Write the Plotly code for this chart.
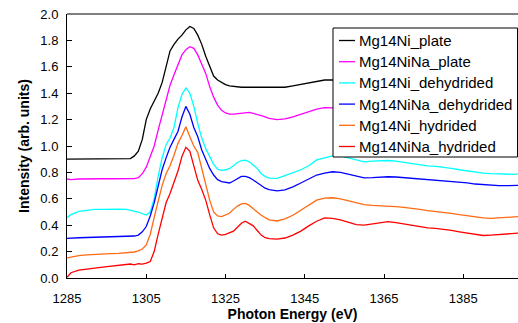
import plotly.graph_objects as go

energy = [1285, 1286, 1288, 1290, 1292, 1294, 1296, 1298, 1300,
          1301, 1302, 1303, 1304, 1305, 1306, 1307, 1308, 1309, 1310,
          1311, 1312, 1313, 1314, 1315, 1316, 1317, 1318, 1319, 1320,
          1321, 1322, 1323, 1324, 1325, 1326, 1327, 1328, 1329, 1330,
          1331, 1332, 1333, 1334, 1335, 1336,
          1338, 1340, 1342, 1344, 1346, 1348, 1350, 1352, 1354, 1356,
          1358, 1360, 1362, 1364, 1366, 1368, 1370, 1372, 1374, 1376,
          1378, 1380, 1382, 1384, 1386, 1388, 1390, 1392, 1394, 1396,
          1398, 1399]

mg14ni_plate = [0.90, 0.90, 0.90, 0.90, 0.90, 0.90, 0.90, 0.90, 0.90,
                0.905, 0.925, 0.96, 1.05, 1.20, 1.28, 1.34, 1.40, 1.48, 1.60,
                1.72, 1.77, 1.81, 1.84, 1.88, 1.905, 1.89, 1.84, 1.77, 1.68,
                1.60, 1.53, 1.50, 1.48, 1.465, 1.455, 1.45, 1.445, 1.445, 1.445,
                1.445, 1.445, 1.445, 1.44, 1.44, 1.44,
                1.44, 1.445, 1.455, 1.465, 1.475, 1.49, 1.50, 1.50, 1.50, 1.495,
                1.49, 1.485, 1.48, 1.48, 1.48, 1.475, 1.47, 1.465, 1.46, 1.455,
                1.45, 1.45, 1.445, 1.44, 1.44, 1.435, 1.435, 1.43, 1.43, 1.43,
                1.43, 1.43]

mg14nina_plate = [0.75, 0.745, 0.75, 0.752, 0.752, 0.752, 0.752, 0.752, 0.752,
                  0.752, 0.753, 0.76, 0.79, 0.84, 0.92, 1.00, 1.12, 1.24, 1.35,
                  1.46, 1.54, 1.62, 1.69, 1.73, 1.752, 1.74, 1.69, 1.62, 1.55,
                  1.45, 1.37, 1.31, 1.27, 1.25, 1.242, 1.242, 1.245, 1.25, 1.253,
                  1.255, 1.247, 1.24, 1.23, 1.22, 1.21,
                  1.20, 1.205, 1.22, 1.24, 1.26, 1.28, 1.29, 1.29, 1.29, 1.285,
                  1.28, 1.275, 1.275, 1.27, 1.27, 1.265, 1.26, 1.255, 1.25, 1.245,
                  1.24, 1.24, 1.235, 1.23, 1.23, 1.225, 1.225, 1.22, 1.22, 1.22,
                  1.22, 1.22]

mg14ni_dehydrided = [0.457, 0.48, 0.505, 0.515, 0.52, 0.52, 0.522, 0.522, 0.52,
                     0.515, 0.508, 0.50, 0.487, 0.477, 0.50, 0.60, 0.77, 0.91, 1.01,
                     1.06, 1.14, 1.29, 1.39, 1.44, 1.40, 1.30, 1.17, 1.06, 0.98,
                     0.92, 0.86, 0.825, 0.815, 0.82, 0.83, 0.85, 0.875, 0.89, 0.893,
                     0.88, 0.856, 0.83, 0.79, 0.77, 0.757,
                     0.755, 0.775, 0.795, 0.82, 0.85, 0.895, 0.91, 0.925, 0.925, 0.91,
                     0.89, 0.88, 0.885, 0.89, 0.89, 0.885, 0.875, 0.865, 0.855, 0.85,
                     0.845, 0.84, 0.83, 0.82, 0.81, 0.80, 0.795, 0.79, 0.787, 0.785,
                     0.785, 0.79]

mg14nina_dehydrided = [0.30, 0.303, 0.305, 0.307, 0.308, 0.31, 0.31, 0.312, 0.313,
                       0.315, 0.318, 0.325, 0.35, 0.39, 0.47, 0.57, 0.70, 0.82, 0.91,
                       0.99, 1.05, 1.11, 1.22, 1.30, 1.24, 1.14, 1.07, 0.97, 0.90,
                       0.83, 0.78, 0.745, 0.73, 0.725, 0.72, 0.735, 0.755, 0.77, 0.77,
                       0.76, 0.742, 0.72, 0.70, 0.68, 0.67,
                       0.66, 0.668, 0.69, 0.72, 0.75, 0.78, 0.795, 0.805, 0.80, 0.785,
                       0.77, 0.758, 0.76, 0.765, 0.767, 0.765, 0.76, 0.755, 0.75, 0.745,
                       0.745, 0.74, 0.735, 0.73, 0.72, 0.712, 0.707, 0.703, 0.70, 0.70,
                       0.70, 0.702]

mg14ni_hydrided = [0.153, 0.16, 0.17, 0.175, 0.18, 0.182, 0.185, 0.187, 0.19,
                   0.193, 0.197, 0.205, 0.22, 0.25, 0.33, 0.46, 0.58, 0.70, 0.79,
                   0.85, 0.93, 1.02, 1.08, 1.145, 1.07, 1.00, 0.95, 0.83, 0.70,
                   0.59, 0.50, 0.47, 0.465, 0.475, 0.49, 0.52, 0.545, 0.562, 0.565,
                   0.55, 0.528, 0.50, 0.475, 0.455, 0.44,
                   0.432, 0.448, 0.475, 0.515, 0.555, 0.59, 0.605, 0.608, 0.60, 0.585,
                   0.57, 0.556, 0.55, 0.548, 0.545, 0.54, 0.535, 0.53, 0.52, 0.51,
                   0.505, 0.50, 0.49, 0.48, 0.47, 0.46, 0.455, 0.452, 0.455, 0.458,
                   0.462, 0.465]

mg14nina_hydrided = [0.005, 0.04, 0.06, 0.07, 0.075, 0.082, 0.088, 0.098, 0.10,
                     0.106, 0.10, 0.108, 0.105, 0.112, 0.125, 0.20, 0.33, 0.45, 0.57,
                     0.64, 0.72, 0.81, 0.92, 0.99, 0.96, 0.85, 0.74, 0.67, 0.59,
                     0.48, 0.38, 0.335, 0.325, 0.33, 0.343, 0.355, 0.385, 0.415, 0.43,
                     0.415, 0.395, 0.36, 0.325, 0.305, 0.298,
                     0.295, 0.303, 0.325, 0.355, 0.395, 0.43, 0.455, 0.452, 0.44, 0.42,
                     0.405, 0.40, 0.41, 0.42, 0.427, 0.42, 0.41, 0.40, 0.39, 0.38,
                     0.376, 0.37, 0.36, 0.35, 0.34, 0.33, 0.322, 0.325, 0.33, 0.33,
                     0.335, 0.34]

series_names = ["Mg14Ni_plate", "Mg14NiNa_plate", "Mg14Ni_dehydrided",
                "Mg14NiNa_dehydrided", "Mg14Ni_hydrided", "Mg14NiNa_hydrided"]
series_values = [mg14ni_plate, mg14nina_plate, mg14ni_dehydrided,
                 mg14nina_dehydrided, mg14ni_hydrided, mg14nina_hydrided]
series_colors = ["#000000", "#FF00FF", "#00FFFF", "#0000FF", "#FF6A13", "#FF0000"]

x_ticks = [1285, 1305, 1325, 1345, 1365, 1385]
y_ticks = [0.0, 0.2, 0.4, 0.6, 0.8, 1.0, 1.2, 1.4, 1.6, 1.8, 2.0]

FONT = "Arial, 'Liberation Sans', sans-serif"
W, H = 518, 323
ML, MR, MT, MB = 67, 0, 14, 45
PW, PH = W - ML - MR, H - MT - MB


def px_x(px):  # window pixel -> paper coordinate
    return (px - ML) / PW


def px_y(py):
    return (H - MB - py) / PH


fig = go.Figure()
for name, vals, col in zip(series_names, series_values, series_colors):
    fig.add_trace(go.Scatter(x=energy, y=vals, mode="lines", name=name,
                             line=dict(color=col, width=1.3), showlegend=False))

# boxed legend (drawn by hand to match the reference's compact layout)
LEG_L, LEG_R, LEG_T, LEG_B = 333, 517.5, 28, 157
fig.add_shape(type="rect", xref="paper", yref="paper",
              x0=px_x(LEG_L), x1=px_x(LEG_R), y0=px_y(LEG_B), y1=px_y(LEG_T),
              line=dict(color="#000000", width=1), fillcolor="white", layer="above")
ROW0, ROWH = 40.5, 21.2
for i, (name, col) in enumerate(zip(series_names, series_colors)):
    yc = ROW0 + i * ROWH
    fig.add_shape(type="line", xref="paper", yref="paper",
                  x0=px_x(339), x1=px_x(355), y0=px_y(yc), y1=px_y(yc),
                  line=dict(color=col, width=1.3), layer="above")
    fig.add_annotation(xref="paper", yref="paper", x=px_x(357), y=px_y(yc),
                       xanchor="left", yanchor="middle", text=name, showarrow=False,
                       font=dict(family=FONT, size=15, color="#000000"))

fig.update_layout(
    width=W, height=H,
    margin=dict(l=ML, r=MR, t=MT, b=MB, autoexpand=False),
    paper_bgcolor="white", plot_bgcolor="white",
    font=dict(family=FONT, size=13, color="#000000"),
    showlegend=False,
    xaxis=dict(range=[1285, 1398.8], tickvals=x_ticks, ticks="inside", ticklen=4,
               tickcolor="#000000", showline=True, linecolor="#000000", linewidth=1,
               showgrid=False, zeroline=False, automargin=False,
               ticklabelstandoff=8,
               title=dict(text="<b>Photon Energy (eV)</b>", font=dict(size=14), standoff=3)),
    yaxis=dict(range=[0, 2.0], tickvals=y_ticks, tickformat=".1f", ticks="inside", ticklen=5,
               tickcolor="#000000", showline=True, linecolor="#000000", linewidth=1,
               showgrid=False, zeroline=False, automargin=False, ticklabelstandoff=5,
               title=dict(text="<b>Intensity (arb. units)</b>", font=dict(size=14), standoff=7)),
)
# top border line
fig.add_shape(type="line", xref="paper", yref="paper", x0=0, x1=1, y0=1, y1=1,
              line=dict(color="#000000", width=1))

# remove the browser's default 8px page margin so the figure sits at (0, 0)
fig.write_html("out.html", config={"displayModeBar": False},
               post_script="document.body.style.margin='0';")
